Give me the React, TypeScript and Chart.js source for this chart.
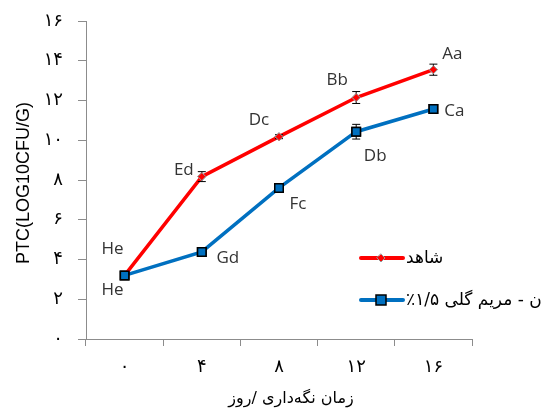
import React, { useEffect, useRef } from "react";
import { Chart, registerables } from "chart.js";

Chart.register(...registerables);

const categories = ["0", "4", "8", "12", "16"];
const controlValues = [3.2, 8.17, 10.18, 12.15, 13.55];
const sageValues = [3.2, 4.38, 7.6, 10.43, 11.57];
const controlErrors = [0.05, 0.25, 0.1, 0.3, 0.28];
const sageErrors = [0.1, 0.15, 0.1, 0.37, 0.1];
const controlLetters = ["He", "Ed", "Dc", "Bb", "Aa"];
const sageLetters = ["He", "Gd", "Fc", "Db", "Ca"];
const yTicks = [0, 2, 4, 6, 8, 10, 12, 14, 16];
const seriesNames = ["شاهد", "نانوامولسیون - مریم گلی ۱/۵٪"];
const xTitle = "زمان نگه‌داری /روز";
const yTitle = "PTC(LOG10CFU/G)";

const controlLabelOffsets = [[-12, -26], [-18, -6], [-20, -17], [-19, -17], [19, -16]];
const sageLabelOffsets = [[-12, 15], [26, 6], [19, 16], [19, 24], [21, 2]];

const toFa = (s: string) => s.replace(/[0-9]/g, (d) => "۰۱۲۳۴۵۶۷۸۹"[+d]);

const RED = "#FF0000";
const BLUE = "#0070C0";
const AXIS = "#8c8c8c";

const overlayPlugin = {
  id: "overlay",
  afterDatasetsDraw(chart: any) {
    const ctx = chart.ctx;
    const y = chart.scales.y;
    const area = chart.chartArea;
    const errs = [controlErrors, sageErrors];
    const letters = [controlLetters, sageLetters];
    const offs = [controlLabelOffsets, sageLabelOffsets];
    ctx.save();
    chart.data.datasets.forEach((ds: any, di: number) => {
      const meta = chart.getDatasetMeta(di);
      meta.data.forEach((pt: any, i: number) => {
        const v = ds.data[i];
        const e = errs[di][i];
        const yt = y.getPixelForValue(v + e);
        const yb = y.getPixelForValue(v - e);
        ctx.strokeStyle = "#000";
        ctx.lineWidth = 1;
        ctx.beginPath();
        ctx.moveTo(pt.x, yt);
        ctx.lineTo(pt.x, yb);
        ctx.moveTo(pt.x - 4, yt);
        ctx.lineTo(pt.x + 4, yt);
        ctx.moveTo(pt.x - 4, yb);
        ctx.lineTo(pt.x + 4, yb);
        ctx.stroke();
      });
    });
    chart.data.datasets.forEach((ds: any, di: number) => {
      const meta = chart.getDatasetMeta(di);
      meta.data.forEach((pt: any) => pt.draw(ctx, area));
    });
    ctx.fillStyle = "#333333";
    ctx.font = "17px 'Open Sans', sans-serif";
    ctx.textAlign = "center";
    ctx.textBaseline = "middle";
    chart.data.datasets.forEach((ds: any, di: number) => {
      const meta = chart.getDatasetMeta(di);
      meta.data.forEach((pt: any, i: number) => {
        const [dx, dy] = offs[di][i];
        ctx.fillText(letters[di][i], pt.x + dx, pt.y + dy);
      });
    });
    // legend
    const legendY = [258, 300];
    const colors = [RED, BLUE];
    chart.data.datasets.forEach((ds: any, di: number) => {
      const ly = legendY[di];
      ctx.strokeStyle = colors[di];
      ctx.lineWidth = 4;
      ctx.lineCap = "round";
      ctx.beginPath();
      ctx.moveTo(361, ly);
      ctx.lineTo(403, ly);
      ctx.stroke();
      if (di === 0) {
        ctx.fillStyle = RED;
        ctx.strokeStyle = "#999";
        ctx.lineWidth = 1;
        ctx.beginPath();
        ctx.moveTo(381, ly - 4);
        ctx.lineTo(385, ly);
        ctx.lineTo(381, ly + 4);
        ctx.lineTo(377, ly);
        ctx.closePath();
        ctx.fill();
        ctx.stroke();
      } else {
        ctx.fillStyle = BLUE;
        ctx.strokeStyle = "#000";
        ctx.lineWidth = 1.5;
        ctx.fillRect(376, ly - 5, 10, 10);
        ctx.strokeRect(376, ly - 5, 10, 10);
      }
      ctx.fillStyle = "#000";
      ctx.font = "17px 'DejaVu Sans', sans-serif";
      ctx.textBaseline = "middle";
      ctx.direction = "rtl";
      ctx.textAlign = "left";
      ctx.fillText(ds.label, 406, ly + 1);
      ctx.direction = "ltr";
    });
    // axis titles
    ctx.fillStyle = "#000";
    ctx.textAlign = "center";
    ctx.textBaseline = "middle";
    ctx.direction = "rtl";
    ctx.font = "16px 'DejaVu Sans', sans-serif";
    ctx.fillText(xTitle, 291, 399);
    ctx.direction = "ltr";
    ctx.font = "18px 'Liberation Sans', sans-serif";
    ctx.translate(24, 183);
    ctx.rotate(-Math.PI / 2);
    ctx.fillText(yTitle, 0, 0);
    ctx.restore();
  },
};

export default function App() {
  const ref = useRef<HTMLCanvasElement>(null);
  useEffect(() => {
    document.body.style.margin = "0";
    const chart = new Chart(ref.current!, {
      type: "line",
      data: {
        labels: categories,
        datasets: [
          {
            label: seriesNames[0],
            data: controlValues,
            borderColor: RED,
            backgroundColor: RED,
            borderWidth: 3.5,
            pointStyle: "rectRot",
            pointRadius: 4,
            pointBorderColor: "#999",
            pointBorderWidth: 1,
            pointBackgroundColor: RED,
          },
          {
            label: seriesNames[1],
            data: sageValues,
            borderColor: BLUE,
            backgroundColor: BLUE,
            borderWidth: 3.5,
            pointStyle: "rect",
            pointRadius: 6,
            pointBorderColor: "#000",
            pointBorderWidth: 1.5,
            pointBackgroundColor: BLUE,
          },
        ],
      },
      options: {
        animation: false,
        responsive: false,
        layout: { padding: { top: 21, right: 69, left: 0, bottom: 0 } },
        plugins: { legend: { display: false }, tooltip: { enabled: false } },
        scales: {
          x: {
            offset: true,
            grid: { offset: true, drawOnChartArea: false, tickLength: 7, color: AXIS },
            border: { color: AXIS },
            ticks: {
              padding: 11,
              color: "#000",
              font: { family: "'DejaVu Sans', sans-serif", size: 18 },
              callback: (v: any, i: number) => toFa(categories[i]),
            },
            afterFit: (a: any) => {
              a.height = 78;
              a.paddingLeft = 0;
              a.paddingRight = 0;
            },
          },
          y: {
            min: 0,
            max: 16,
            afterBuildTicks: (a: any) => {
              a.ticks = yTicks.map((v) => ({ value: v }));
            },
            grid: { drawOnChartArea: false, tickLength: 8, color: AXIS },
            border: { color: AXIS },
            ticks: {
              padding: 15,
              color: "#000",
              font: { family: "'DejaVu Sans', sans-serif", size: 18 },
              callback: (v: any) => toFa(String(v)),
            },
            afterFit: (a: any) => {
              a.width = 86;
              a.paddingTop = 0;
              a.paddingBottom = 0;
            },
          },
        },
      },
      plugins: [overlayPlugin],
    });
    return () => chart.destroy();
  }, []);
  return <canvas ref={ref} width={541} height={417} />;
}
